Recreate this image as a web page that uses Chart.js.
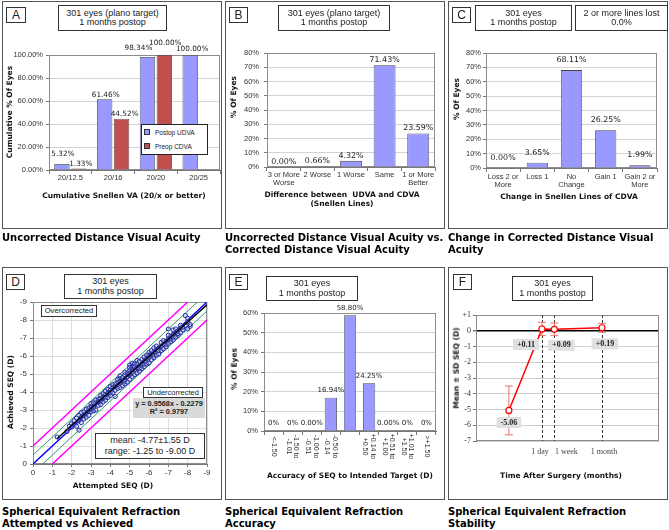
<!DOCTYPE html>
<html>
<head>
<meta charset="utf-8">
<script src="https://cdn.jsdelivr.net/npm/chart.js@4.4.0/dist/chart.umd.min.js"></script>
<style>
  body { margin: 0; background: #fff; }
  #page { position: relative; width: 669px; height: 530px; overflow: hidden; font-family: "Liberation Sans", Arial, sans-serif; color: #222; }
  .cv { position: absolute; }
  .panel { position: absolute; border: 1px solid #555; box-sizing: border-box; pointer-events: none; }
  .tag { position: absolute; border: 1px solid #333; background: #fff; box-sizing: border-box; font-size: 12px; line-height: 14px; text-align: center; }
  .note { position: absolute; border: 1px solid #333; background: #fff; box-sizing: border-box; font-size: 9px; line-height: 9.5px; text-align: center; display: flex; flex-direction: column; justify-content: center; white-space: nowrap; }
  .ytitle, .xtitle { position: absolute; font: bold 7.5px "DejaVu Sans", sans-serif; line-height: 8.7px; white-space: nowrap; text-align: center; color: #111; }
  .ytitle { transform: translate(-50%, -50%) rotate(-90deg); }
  .xtitle { transform: translate(-50%, -50%); }
  .caption { position: absolute; font: bold 10px "DejaVu Sans", sans-serif; line-height: 11.7px; color: #000; white-space: nowrap; }
  .legend { position: absolute; border: 1px solid #222; background: #fff; box-sizing: border-box; font-size: 6.5px; line-height: 14px; padding: 1px 0 0 2px; }
  .legend i { display: inline-block; width: 4px; height: 4px; border: 0.5px solid #333; margin-right: 5px; vertical-align: 0; }
</style>
</head>
<body>
<div id="page">
  <div class="cv" style="left:2px;top:1px;width:220px;height:228px"><canvas id="chartA"></canvas></div>
  <div class="cv" style="left:225px;top:1px;width:220px;height:228px"><canvas id="chartB"></canvas></div>
  <div class="cv" style="left:448px;top:1px;width:220px;height:228px"><canvas id="chartC"></canvas></div>
  <div class="cv" style="left:2px;top:267px;width:220px;height:233px"><canvas id="chartD"></canvas></div>
  <div class="cv" style="left:225px;top:267px;width:220px;height:233px"><canvas id="chartE"></canvas></div>
  <div class="cv" style="left:448px;top:267px;width:220px;height:233px"><canvas id="chartF"></canvas></div>

  <div class="panel" style="left:2px;top:1px;width:220px;height:228px"></div>
  <div class="panel" style="left:225px;top:1px;width:220px;height:228px"></div>
  <div class="panel" style="left:448px;top:1px;width:220px;height:228px"></div>
  <div class="panel" style="left:2px;top:267px;width:220px;height:233px"></div>
  <div class="panel" style="left:225px;top:267px;width:220px;height:233px"></div>
  <div class="panel" style="left:448px;top:267px;width:220px;height:233px"></div>

  <!-- panel letters -->
  <div class="tag" style="left:6px;top:7px;width:20px;height:16px">A</div>
  <div class="tag" style="left:229px;top:7px;width:19px;height:16px">B</div>
  <div class="tag" style="left:452px;top:7px;width:19px;height:16px">C</div>
  <div class="tag" style="left:6px;top:274px;width:19px;height:16px">D</div>
  <div class="tag" style="left:229px;top:274px;width:19px;height:16px">E</div>
  <div class="tag" style="left:453px;top:274px;width:19px;height:16px">F</div>

  <!-- title boxes -->
  <div class="note" style="left:58px;top:5px;width:109px;height:26px"><div>301 eyes (plano target)</div><div>1 months postop</div></div>
  <div class="note" style="left:278px;top:5px;width:112px;height:26px"><div>301 eyes (plano target)</div><div>1 months postop</div></div>
  <div class="note" style="left:475px;top:5px;width:97px;height:26px"><div>301 eyes</div><div>1 months postop</div></div>
  <div class="note" style="left:575px;top:5px;width:93px;height:26px"><div>2 or more lines lost</div><div>0.0%</div></div>
  <div class="note" style="left:64px;top:274px;width:93px;height:25px"><div>301 eyes</div><div>1 months postop</div></div>
  <div class="note" style="left:266px;top:276px;width:92px;height:25px"><div>301 eyes</div><div>1 months postop</div></div>
  <div class="note" style="left:512px;top:276px;width:81px;height:25px"><div>301 eyes</div><div>1 months postop</div></div>

  <!-- legend A -->
  <div class="legend" style="left:141px;top:124px;width:67px;height:31px">
    <div><i style="background:#9999ff"></i>Postop UDVA</div>
    <div><i style="background:#c0504d"></i>Preop CDVA</div>
  </div>

  <!-- notes D -->
  <div class="note" style="left:41px;top:305px;width:56px;height:12px;font-size:7.7px">Overcorrected</div>
  <div class="note" style="left:143px;top:387px;width:60px;height:11px;font-size:7.5px">Undercorrected</div>
  <div class="note" style="left:133px;top:398px;width:72px;height:20px;border:none;background:#d9d9d9;font-weight:bold;font-size:7.3px;line-height:8.5px"><div>y = 0.9568x - 0.2279</div><div>R² = 0.9797</div></div>
  <div class="note" style="left:95px;top:433px;width:110px;height:26px;line-height:11.5px"><div>mean: -4.77±1.55 D</div><div>range: -1.25 to -9.00 D</div></div>

  <!-- axis titles -->
  <div class="ytitle" style="left:10px;top:112px">Cumulative % Of Eyes</div>
  <div class="xtitle" style="left:124px;top:196px">Cumulative Snellen VA (20/x or better)</div>
  <div class="ytitle" style="left:234px;top:97px">% Of Eyes</div>
  <div class="xtitle" style="left:342px;top:200px">Difference between&nbsp; UDVA and CDVA<br>(Snellen Lines)</div>
  <div class="ytitle" style="left:457px;top:99px">% Of Eyes</div>
  <div class="xtitle" style="left:569px;top:197px">Change in Snellen Lines of CDVA</div>
  <div class="ytitle" style="left:11px;top:392px">Achieved SEQ (D)</div>
  <div class="xtitle" style="left:113px;top:486px">Attempted SEQ (D)</div>
  <div class="ytitle" style="left:235px;top:369px">% Of Eyes</div>
  <div class="xtitle" style="left:350px;top:476px">Accuracy of SEQ to Intended Target (D)</div>
  <div class="ytitle" style="left:457px;top:368px">Mean ± SD SEQ (D)</div>
  <div class="xtitle" style="left:561px;top:476px">Time After Surgery (months)</div>

  <!-- captions -->
  <div class="caption" style="left:2px;top:232px">Uncorrected Distance Visual Acuity</div>
  <div class="caption" style="left:225px;top:232px">Uncorrected Distance Visual Acuity vs.<br>Corrected Distance Visual Acuity</div>
  <div class="caption" style="left:448px;top:232px">Change in Corrected Distance Visual<br>Acuity</div>
  <div class="caption" style="left:2px;top:506px">Spherical Equivalent Refraction<br>Attempted vs Achieved</div>
  <div class="caption" style="left:225px;top:506px">Spherical Equivalent Refraction<br>Accuracy</div>
  <div class="caption" style="left:448px;top:506px">Spherical Equivalent Refraction<br>Stability</div>
</div>

<script>
// A: cumulative Snellen VA
const snellenLevels = ['20/12.5', '20/16', '20/20', '20/25'];
const postopUdva = [5.32, 61.46, 98.34, 100];
const preopCdva = [1.33, 44.52, 100, null];

// B: UDVA vs CDVA difference
const udvaCdvaLines = [['3 or More', 'Worse'], '2 Worse', '1 Worse', 'Same', ['1 or More', 'Better']];
const udvaCdvaPct = [0, 0.66, 4.32, 71.43, 23.59];

// C: change in CDVA
const cdvaChangeLines = [['Loss 2 or', 'More'], 'Loss 1', ['No', 'Change'], 'Gain 1', ['Gain 2 or', 'More']];
const cdvaChangePct = [0, 3.65, 68.11, 26.25, 1.99];

// D: attempted vs achieved SEQ
const attemptedVsAchieved = [
  [-1.25, -1.50], [-1.75, -1.80], [-1.88, -2.10], [-2.00, -2.05], [-2.00, -2.25], [-2.13, -2.40],
  [-2.13, -2.20], [-2.25, -2.10], [-2.25, -2.55], [-2.38, -1.88], [-2.38, -2.40], [-2.38, -2.70],
  [-2.50, -2.30], [-2.50, -2.60], [-2.50, -2.85], [-2.63, -2.50], [-2.63, -2.90], [-2.63, -2.70],
  [-2.75, -2.60], [-2.75, -3.05], [-2.75, -2.80], [-2.88, -3.10], [-2.88, -2.70], [-2.88, -2.95],
  [-3.00, -2.90], [-3.00, -3.20], [-3.00, -3.35], [-3.00, -3.05], [-3.13, -2.95], [-3.13, -3.15],
  [-3.13, -3.40], [-3.25, -3.00], [-3.25, -3.40], [-3.25, -3.55], [-3.38, -3.25], [-3.38, -3.60],
  [-3.38, -3.45], [-3.50, -3.30], [-3.50, -3.50], [-3.50, -3.80], [-3.50, -3.65], [-3.63, -3.45],
  [-3.63, -3.70], [-3.63, -3.90], [-3.75, -3.55], [-3.75, -3.85], [-3.75, -4.05], [-3.75, -3.70],
  [-3.88, -3.70], [-3.88, -3.95], [-3.88, -4.15], [-4.00, -3.80], [-4.00, -4.10], [-4.00, -4.30],
  [-4.00, -3.95], [-4.13, -3.95], [-4.13, -4.25], [-4.13, -4.40], [-4.25, -3.75], [-4.25, -4.10],
  [-4.25, -4.45], [-4.25, -4.30], [-4.38, -4.20], [-4.38, -4.55], [-4.38, -4.70], [-4.50, -4.25],
  [-4.50, -4.50], [-4.50, -4.75], [-4.50, -4.60], [-4.50, -4.90], [-4.63, -4.35], [-4.63, -4.65],
  [-4.63, -4.80], [-4.75, -4.45], [-4.75, -4.70], [-4.75, -4.95], [-4.75, -4.60], [-4.75, -5.10],
  [-4.88, -4.55], [-4.88, -4.85], [-4.88, -5.05], [-5.00, -4.70], [-5.00, -4.95], [-5.00, -5.20],
  [-5.00, -5.50], [-5.00, -5.05], [-5.00, -5.35], [-5.13, -4.85], [-5.13, -5.10], [-5.13, -5.40],
  [-5.13, -5.25], [-5.13, -5.60], [-5.25, -4.95], [-5.25, -5.25], [-5.25, -5.55], [-5.25, -5.40],
  [-5.38, -5.05], [-5.38, -5.35], [-5.38, -5.55], [-5.38, -5.75], [-5.50, -5.15], [-5.50, -5.45],
  [-5.50, -5.70], [-5.50, -5.30], [-5.63, -5.30], [-5.63, -5.55], [-5.63, -5.80], [-5.75, -5.40],
  [-5.75, -5.70], [-5.75, -5.95], [-5.75, -5.55], [-5.88, -5.55], [-5.88, -5.85], [-5.88, -6.05],
  [-6.00, -5.60], [-6.00, -5.90], [-6.00, -6.20], [-6.00, -6.05], [-6.13, -5.80], [-6.13, -6.10],
  [-6.13, -6.30], [-6.25, -5.90], [-6.25, -6.20], [-6.25, -6.45], [-6.25, -6.05], [-6.38, -6.05],
  [-6.38, -6.35], [-6.38, -6.55], [-6.50, -6.10], [-6.50, -6.45], [-6.50, -6.30], [-6.63, -6.30],
  [-6.63, -6.55], [-6.63, -6.75], [-6.75, -6.40], [-6.75, -6.65], [-6.75, -6.85], [-6.88, -6.50],
  [-6.88, -6.80], [-6.88, -6.65], [-7.00, -6.70], [-7.00, -6.95], [-7.00, -7.50], [-7.00, -7.15],
  [-7.13, -6.80], [-7.13, -7.10], [-7.13, -6.95], [-7.25, -6.90], [-7.25, -7.20], [-7.25, -7.45],
  [-7.25, -7.05], [-7.38, -7.05], [-7.38, -7.30], [-7.38, -7.50], [-7.50, -7.15], [-7.50, -7.40],
  [-7.50, -7.25], [-7.63, -7.30], [-7.63, -7.55], [-7.63, -7.70], [-7.75, -7.45], [-7.75, -7.60],
  [-7.88, -8.25], [-7.88, -7.70], [-8.00, -7.50], [-8.00, -7.90], [-8.00, -8.10], [-8.13, -7.65],
  [-8.13, -7.75], [-9.00, -9.00]
];
const perfectLine = [[0, 0], [-9, -9]];
const halfDiopterLines = [[[0, -0.5], [-8.5, -9]], [[-0.5, 0], [-9, -8.5]]];
const oneDiopterLines = [[[0, -1], [-8, -9]], [[-1, 0], [-9, -8]]];
const regressionLine = [[-1.25, -1.42], [-9, -8.84]];

// E: accuracy of SEQ
const accuracyBins = [['<-1.50'], ['-1.50 to', '-1.01'], ['-1.00 to', '-0.51'], ['-0.50 to', '-0.14'], [''],
  ['+0.14 to', '+0.50'], ['+0.51 to', '+1.00'], ['+1.01 to', '+1.50'], ['>+1.50']];
const accuracyPct = [0, 0, 0, 16.94, 58.80, 24.25, 0, 0, 0];
const accuracyText = ['0%', '0%', '0.00%', '16.94%', '58.80%', '24.25%', '0.00%', '0%', '0%'];

// F: stability (months after surgery, preop placed before 0)
const timePoints = [-0.5, 0.033, 0.233, 1];
const meanSeq = [-5.06, 0.11, 0.09, 0.19];
const sdSeq = [1.55, 0.42, 0.40, 0.28];
const timeTicks = [0.033, 0.233, 1];
const timeTickLabels = ['1 day', '1 week', '1 month'];

// ---------- helpers ----------
const fixWidth = w => s => { s.width = w; };
const fixHeight = h => s => { s.height = h; };
const pct = v => v + '%';
const xy = pts => pts.map(p => ({x: p[0], y: p[1]}));

const base = {responsive: true, maintainAspectRatio: false, animation: false, events: []};

// frame around the plot area
Chart.register({
  id: 'frame',
  beforeDatasetsDraw(chart, args, opts) {
    const {ctx, chartArea: a} = chart;
    ctx.save();
    ctx.strokeStyle = opts.color || '#8c8c8c';
    ctx.lineWidth = 1;
    ctx.strokeRect(a.left + 0.5, a.top + 0.5, a.width - 1, a.height - 1);
    ctx.restore();
  }
});

// value labels above the bars
Chart.register({
  id: 'barLabels',
  afterDatasetsDraw(chart, args, opts) {
    if (!opts.texts) return;
    const ctx = chart.ctx;
    ctx.save();
    ctx.font = opts.font;
    ctx.fillStyle = '#222';
    ctx.textAlign = 'center';
    ctx.textBaseline = 'middle';
    opts.texts.forEach((texts, d) => {
      chart.getDatasetMeta(d).data.forEach((bar, i) => {
        if (texts[i] == null) return;
        const shift = opts.shifts ? opts.shifts[d][i] : [0, opts.lift];
        ctx.fillText(texts[i], bar.x + shift[0], bar.y + shift[1]);
      });
    });
    ctx.restore();
  }
});

function catAxis(height, pad) {
  return {
    grid: {drawOnChartArea: false, tickLength: 4, tickColor: '#777'},
    border: {color: '#777'},
    ticks: {font: {family: 'Liberation Sans', size: 7.5, lineHeight: 1.1}, color: '#333', padding: pad, maxRotation: 0, autoSkip: false},
    afterFit: fixHeight(height)
  };
}

function pctAxis(max, step, width, fmt, pad) {
  return {
    min: 0, max: max,
    ticks: {stepSize: step, callback: fmt, font: {family: 'Liberation Sans', size: 7.5}, color: '#333', padding: pad},
    grid: {color: '#d4d4d4', tickColor: '#777', tickLength: 3},
    border: {color: '#777'},
    afterFit: fixWidth(width)
  };
}

// ---------- A ----------
new Chart(document.getElementById('chartA'), {
  type: 'bar',
  data: {
    labels: snellenLevels,
    datasets: [
      {data: postopUdva, backgroundColor: '#9999ff', borderColor: '#444', borderWidth: 0.8},
      {data: preopCdva, backgroundColor: '#c0504d', borderColor: '#444', borderWidth: 0.8}
    ]
  },
  options: {
    ...base,
    layout: {padding: {top: 54, right: 2}},
    datasets: {bar: {categoryPercentage: 0.79, barPercentage: 0.91}},
    scales: {
      x: catAxis(59, 0),
      y: pctAxis(100, 20, 47, v => v.toFixed(2) + '%', 3)
    },
    plugins: {
      legend: {display: false}, tooltip: {enabled: false},
      barLabels: {
        font: '7.3px "DejaVu Sans"',
        texts: [postopUdva.map(v => v.toFixed(2) + '%'), preopCdva.map(v => v == null ? null : v.toFixed(2) + '%')],
        shifts: [[[1, -10], [1, -4.5], [-9, -8.5], [2, -5.5]], [[2, -4.5], [3, -4.5], [1, -11.5], null]]
      }
    }
  }
});

// ---------- B ----------
new Chart(document.getElementById('chartB'), {
  type: 'bar',
  data: {
    labels: udvaCdvaLines,
    datasets: [{data: udvaCdvaPct, backgroundColor: '#9999ff', borderColor: '#444', borderWidth: 0.8}]
  },
  options: {
    ...base,
    layout: {padding: {top: 52, right: 10}},
    datasets: {bar: {categoryPercentage: 1, barPercentage: 0.65}},
    scales: {x: catAxis(62, 0), y: pctAxis(80, 10, 42, pct, 5)},
    plugins: {
      legend: {display: false}, tooltip: {enabled: false},
      barLabels: {font: '7.9px "DejaVu Sans"', lift: -5, texts: [udvaCdvaPct.map(v => v.toFixed(2) + '%')]}
    }
  }
});

// ---------- C ----------
new Chart(document.getElementById('chartC'), {
  type: 'bar',
  data: {
    labels: cdvaChangeLines,
    datasets: [{data: cdvaChangePct, backgroundColor: '#9999ff', borderColor: '#444', borderWidth: 0.8}]
  },
  options: {
    ...base,
    layout: {padding: {top: 52, right: 11}},
    datasets: {bar: {categoryPercentage: 1, barPercentage: 0.62}},
    scales: {x: catAxis(61, 1), y: pctAxis(80, 10, 38, pct, 2)},
    plugins: {
      legend: {display: false}, tooltip: {enabled: false},
      barLabels: {font: '7.9px "DejaVu Sans"', lift: -10, texts: [cdvaChangePct.map(v => v.toFixed(2) + '%')]}
    }
  }
});

// ---------- D ----------
const lineSet = (pts, color, width, order) => ({
  data: xy(pts), showLine: true, borderColor: color, borderWidth: width, pointRadius: 0, order: order
});
new Chart(document.getElementById('chartD'), {
  type: 'scatter',
  data: {
    datasets: [
      lineSet(regressionLine, '#000', 1.4, 0),
      {data: xy(attemptedVsAchieved), pointRadius: 2.1, borderWidth: 1, borderColor: '#1f2b9c', backgroundColor: 'rgba(170,180,240,0.35)', order: 1},
      lineSet(perfectLine, '#0000ff', 1.4, 2),
      lineSet(halfDiopterLines[0], '#2e9a6a', 1, 3),
      lineSet(halfDiopterLines[1], '#2e9a6a', 1, 3),
      lineSet(oneDiopterLines[0], '#ff00ff', 1.5, 4),
      lineSet(oneDiopterLines[1], '#ff00ff', 1.5, 4)
    ]
  },
  options: {
    ...base,
    layout: {padding: {top: 35, right: 15}},
    scales: {
      x: {
        type: 'linear', min: -9, max: 0, reverse: true,
        ticks: {stepSize: 1, font: {family: 'Liberation Sans', size: 8}, color: '#333', padding: 1},
        grid: {color: '#dcdcdc', tickColor: '#777', tickLength: 3}, border: {color: '#777'},
        afterFit: fixHeight(36)
      },
      y: {
        type: 'linear', min: -9, max: 0, reverse: true,
        ticks: {stepSize: 1, font: {family: 'Liberation Sans', size: 8}, color: '#333', padding: 3},
        grid: {color: '#dcdcdc', tickColor: '#777', tickLength: 3}, border: {color: '#777'},
        afterFit: fixWidth(31)
      }
    },
    plugins: {legend: {display: false}, tooltip: {enabled: false}}
  }
});

// ---------- E ----------
new Chart(document.getElementById('chartE'), {
  type: 'bar',
  data: {
    labels: accuracyBins,
    datasets: [{data: accuracyPct, backgroundColor: '#9999ff', borderColor: '#444', borderWidth: 0.8}]
  },
  options: {
    ...base,
    layout: {padding: {top: 46, right: 9}},
    datasets: {bar: {categoryPercentage: 1, barPercentage: 0.64}},
    scales: {
      x: {
        grid: {drawOnChartArea: false, tickLength: 4, tickColor: '#777'},
        border: {color: '#777'},
        ticks: {display: false},
        afterFit: fixHeight(69)
      },
      y: pctAxis(60, 10, 39, pct, 3)
    },
    plugins: {
      legend: {display: false}, tooltip: {enabled: false},
      barLabels: {font: '7px "DejaVu Sans"', lift: -7.5, texts: [accuracyText]}
    }
  },
  plugins: [{
    // category labels rotated to read downward
    id: 'downLabels',
    afterDraw(chart) {
      const {ctx, scales: {x}, chartArea} = chart;
      ctx.save();
      ctx.font = '7px "Liberation Sans"';
      ctx.fillStyle = '#333';
      ctx.textAlign = 'center';
      ctx.textBaseline = 'middle';
      accuracyBins.forEach((lines, i) => {
        ctx.save();
        ctx.translate(x.getPixelForValue(i), chartArea.bottom + 15.5);
        ctx.rotate(Math.PI / 2);
        lines.forEach((t, j) => ctx.fillText(t, 0, (j - (lines.length - 1) / 2) * 7.5));
        ctx.restore();
      });
      ctx.restore();
    }
  }]
});

// ---------- F ----------
const seqLabelShift = [[0, 12], [-16, 15.5], [7, 16], [3, 16]];
const timeLabelShift = [-2, 12, 2];
new Chart(document.getElementById('chartF'), {
  type: 'line',
  data: {
    datasets: [{
      data: timePoints.map((t, i) => ({x: t, y: meanSeq[i]})),
      borderColor: '#ff0000', borderWidth: 1.5, tension: 0,
      pointRadius: 3, pointBackgroundColor: '#fff', pointBorderColor: '#ff0000', pointBorderWidth: 1.2
    }]
  },
  options: {
    ...base,
    layout: {padding: {top: 48, right: 9}},
    scales: {
      x: {
        type: 'linear', min: -1.03, max: 1.92,
        ticks: {display: false}, grid: {display: false}, border: {display: false},
        afterFit: fixHeight(59)
      },
      y: {
        min: -7, max: 1,
        ticks: {stepSize: 1, callback: v => v > 0 ? '+' + v : String(v), font: {family: 'Liberation Serif', size: 8}, color: '#333', padding: 2},
        grid: {
          color: c => c.tick.value === 0 ? '#000' : '#cfcfcf',
          lineWidth: c => c.tick.value === 0 ? 1.5 : 1,
          tickColor: '#777', tickLength: 3
        },
        border: {color: '#777'},
        afterFit: fixWidth(28)
      }
    },
    plugins: {legend: {display: false}, tooltip: {enabled: false}}
  },
  plugins: [{
    id: 'stability',
    beforeDatasetsDraw(chart) {
      const {ctx, chartArea: a, scales: {x, y}} = chart;
      ctx.save();
      // dashed markers for the follow-up visits
      ctx.strokeStyle = '#333';
      ctx.lineWidth = 1;
      ctx.setLineDash([3, 2]);
      timeTicks.forEach(t => {
        const px = Math.round(x.getPixelForValue(t)) + 0.5;
        ctx.beginPath(); ctx.moveTo(px, a.top); ctx.lineTo(px, a.bottom); ctx.stroke();
      });
      ctx.setLineDash([]);
      // error bars
      ctx.strokeStyle = '#ee7070';
      timePoints.forEach((t, i) => {
        const px = x.getPixelForValue(t);
        const hi = y.getPixelForValue(meanSeq[i] + sdSeq[i]);
        const lo = y.getPixelForValue(meanSeq[i] - sdSeq[i]);
        ctx.beginPath();
        ctx.moveTo(px, hi); ctx.lineTo(px, lo);
        ctx.moveTo(px - 4, hi); ctx.lineTo(px + 4, hi);
        ctx.moveTo(px - 4, lo); ctx.lineTo(px + 4, lo);
        ctx.stroke();
      });
      ctx.restore();
    },
    afterDatasetsDraw(chart) {
      const {ctx, chartArea: a, scales: {x}} = chart;
      const pts = chart.getDatasetMeta(0).data;
      ctx.save();
      ctx.textAlign = 'center';
      ctx.textBaseline = 'middle';
      ctx.font = 'bold 8px "Liberation Serif"';
      pts.forEach((p, i) => {
        const cx = p.x + seqLabelShift[i][0];
        const cy = p.y + seqLabelShift[i][1];
        const txt = (meanSeq[i] > 0 ? '+' : '') + meanSeq[i].toFixed(2);
        const w = ctx.measureText(txt).width + 8;
        ctx.fillStyle = '#e0e0e0';
        ctx.fillRect(cx - w / 2, cy - 5.5, w, 11);
        ctx.fillStyle = '#222';
        ctx.fillText(txt, cx, cy);
      });
      // visit labels under the axis
      ctx.font = '8px "Liberation Serif"';
      ctx.fillStyle = '#444';
      timeTicks.forEach((t, i) => {
        ctx.fillText(timeTickLabels[i], x.getPixelForValue(t) + timeLabelShift[i], a.bottom + 11);
      });
      ctx.restore();
    }
  }]
});
</script>
</body>
</html>
